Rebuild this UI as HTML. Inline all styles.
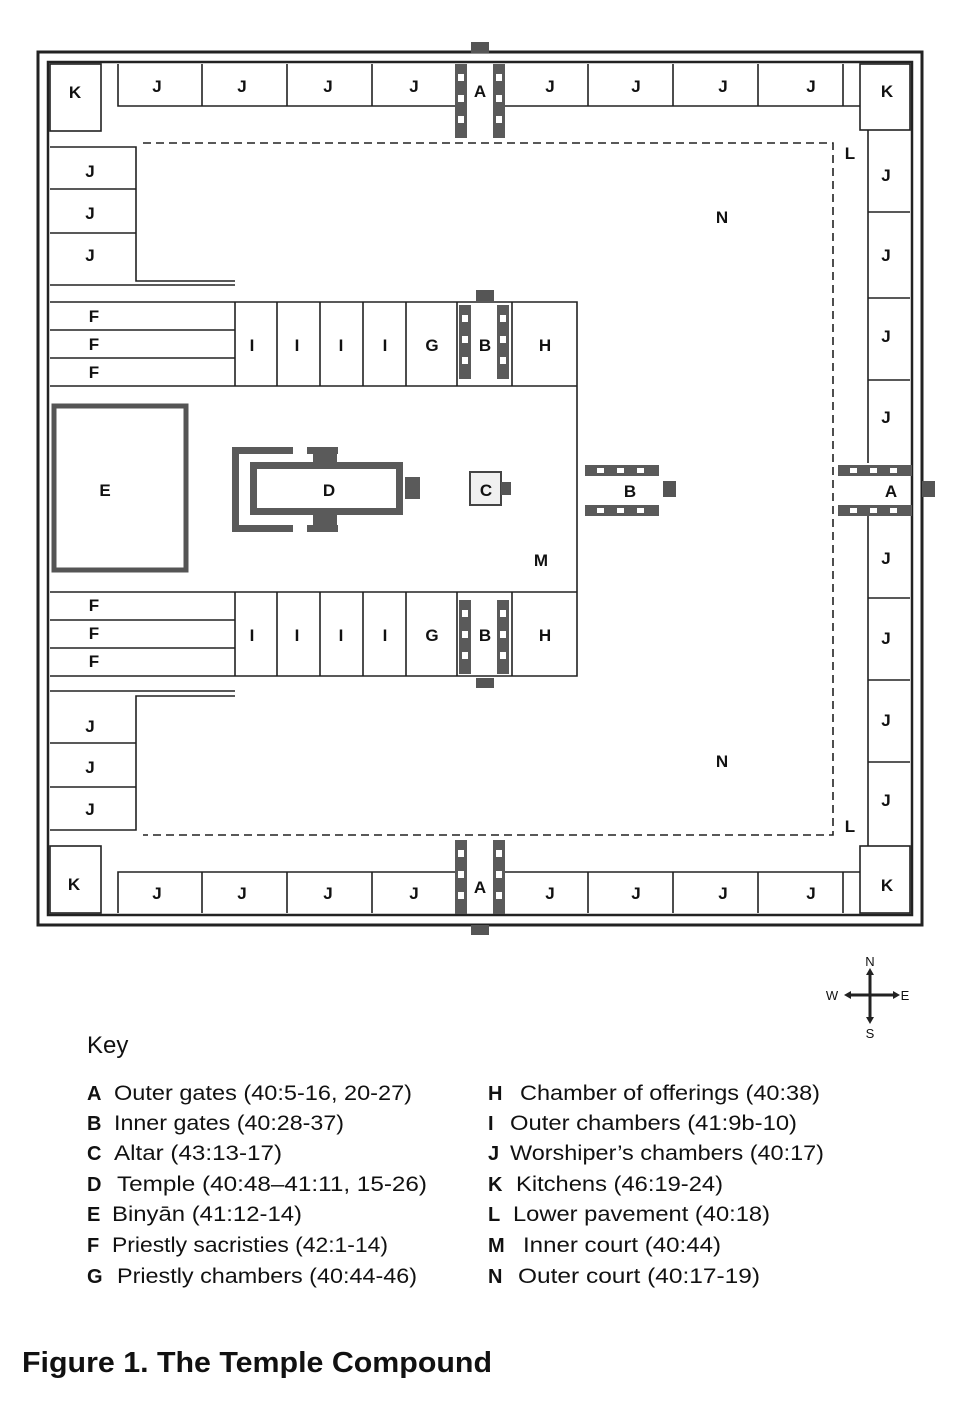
<!DOCTYPE html>
<html><head><meta charset="utf-8"><style>
html,body{margin:0;padding:0;background:#fff;}
svg{display:block;}
text{font-family:"Liberation Sans",sans-serif;fill:#111;}
.l{font-size:17px;font-weight:bold;text-anchor:middle;}
.k{font-size:21px;}
.kl{font-size:20px;font-weight:bold;}
</style></head><body>
<svg width="958" height="1416" viewBox="0 0 958 1416" xmlns="http://www.w3.org/2000/svg">
<defs>
<g id="vg">
 <rect x="0" y="0" width="12" height="74" fill="#5a5a5a"/>
 <rect x="3" y="10" width="6" height="7" fill="#fff"/><rect x="3" y="31" width="6" height="7" fill="#fff"/><rect x="3" y="52" width="6" height="7" fill="#fff"/>
 <rect x="38" y="0" width="12" height="74" fill="#5a5a5a"/>
 <rect x="41" y="10" width="6" height="7" fill="#fff"/><rect x="41" y="31" width="6" height="7" fill="#fff"/><rect x="41" y="52" width="6" height="7" fill="#fff"/>
</g>
<g id="hg">
 <rect x="0" y="0" width="74" height="11" fill="#5a5a5a"/>
 <rect x="12" y="3" width="7" height="5" fill="#fff"/><rect x="32" y="3" width="7" height="5" fill="#fff"/><rect x="52" y="3" width="7" height="5" fill="#fff"/>
 <rect x="0" y="40" width="74" height="11" fill="#5a5a5a"/>
 <rect x="12" y="43" width="7" height="5" fill="#fff"/><rect x="32" y="43" width="7" height="5" fill="#fff"/><rect x="52" y="43" width="7" height="5" fill="#fff"/>
</g>
</defs>
<g fill="none" stroke="#222" stroke-width="1.6">
 <rect x="38" y="52" width="884" height="873" stroke-width="3"/>
 <rect x="48" y="62" width="864" height="853" stroke-width="2.5"/>
 <rect x="50" y="64" width="51" height="67"/>
 <rect x="860" y="64" width="50" height="66"/>
 <rect x="50" y="846" width="51" height="67"/>
 <rect x="860" y="846" width="50" height="67"/>
 <path d="M118 64V106H455M202 64V106M287 64V106M372 64V106M505 106H860M588 64V106M673 64V106M758 64V106M843 64V106"/>
 <path d="M118 913V872H455M202 872V913M287 872V913M372 872V913M505 872H860M588 872V913M673 872V913M758 872V913M843 872V913"/>
 <path d="M50 147H136V281H235M50 189H136M50 233H136M50 285H235"/>
 <path d="M50 830H136V696H235M50 787H136M50 743H136M50 691H235"/>
 <path d="M868 130V463M868 515V846M868 212H910M868 298H910M868 380H910M868 598H910M868 680H910M868 762H910"/>
 <path d="M50 302H577V592M50 592H577M50 676H577V592M50 386H577V302"/>
 <path d="M50 330H235M50 358H235M235 302V386M277 302V386M320 302V386M363 302V386M406 302V386M457 302V386M512 302V386"/>
 <path d="M50 620H235M50 648H235M235 592V676M277 592V676M320 592V676M363 592V676M406 592V676M457 592V676M512 592V676"/>
 <path d="M143 143H833V835H143" stroke-dasharray="8,5"/>
</g>
<rect x="54" y="406" width="132" height="164" fill="none" stroke="#555" stroke-width="5"/>
<g fill="#5a5a5a">
 <path d="M232 447H293V454H239V525H293V532H232Z"/>
 <path d="M307 447H338V454H307Z M307 525H338V532H307Z"/>
 <path d="M250 462H403V515H250Z M257 469V508H396V469Z" fill-rule="evenodd"/>
 <rect x="313" y="454" width="24" height="15"/><rect x="313" y="508" width="24" height="17"/>
 <rect x="405" y="477" width="15" height="22"/>
 <rect x="255" y="485" width="2" height="8"/>
</g>
<rect x="470" y="472" width="31" height="33" fill="#f0f0f0" stroke="#444" stroke-width="2"/>
<rect x="501" y="482" width="10" height="13" fill="#555"/>
<use href="#vg" x="455" y="64"/><rect x="471" y="42" width="18" height="11" fill="#555"/>
<use href="#vg" x="455" y="840"/><rect x="471" y="925" width="18" height="10" fill="#555"/>
<use href="#vg" x="459" y="305"/><rect x="476" y="290" width="18" height="11" fill="#555"/>
<use href="#vg" x="459" y="600"/><rect x="476" y="678" width="18" height="10" fill="#555"/>
<use href="#hg" x="585" y="465"/><rect x="663" y="481" width="13" height="16" fill="#555"/>
<use href="#hg" x="838" y="465"/><rect x="922" y="481" width="13" height="16" fill="#555"/>
<g>
<text x="75" y="98" class="l">K</text><text x="887" y="97" class="l">K</text>
<text x="74" y="890" class="l">K</text><text x="887" y="891" class="l">K</text>
<text x="157" y="92" class="l">J</text><text x="242" y="92" class="l">J</text><text x="328" y="92" class="l">J</text><text x="414" y="92" class="l">J</text>
<text x="550" y="92" class="l">J</text><text x="636" y="92" class="l">J</text><text x="723" y="92" class="l">J</text><text x="811" y="92" class="l">J</text>
<text x="157" y="899" class="l">J</text><text x="242" y="899" class="l">J</text><text x="328" y="899" class="l">J</text><text x="414" y="899" class="l">J</text>
<text x="550" y="899" class="l">J</text><text x="636" y="899" class="l">J</text><text x="723" y="899" class="l">J</text><text x="811" y="899" class="l">J</text>
<text x="480" y="97" class="l">A</text><text x="480" y="893" class="l">A</text><text x="891" y="497" class="l">A</text>
<text x="90" y="177" class="l">J</text><text x="90" y="219" class="l">J</text><text x="90" y="261" class="l">J</text>
<text x="90" y="732" class="l">J</text><text x="90" y="773" class="l">J</text><text x="90" y="815" class="l">J</text>
<text x="886" y="181" class="l">J</text><text x="886" y="261" class="l">J</text><text x="886" y="342" class="l">J</text><text x="886" y="423" class="l">J</text>
<text x="886" y="564" class="l">J</text><text x="886" y="644" class="l">J</text><text x="886" y="726" class="l">J</text><text x="886" y="806" class="l">J</text>
<text x="94" y="322" class="l">F</text><text x="94" y="350" class="l">F</text><text x="94" y="378" class="l">F</text>
<text x="94" y="611" class="l">F</text><text x="94" y="639" class="l">F</text><text x="94" y="667" class="l">F</text>
<text x="252" y="351" class="l">I</text><text x="297" y="351" class="l">I</text><text x="341" y="351" class="l">I</text><text x="385" y="351" class="l">I</text><text x="432" y="351" class="l">G</text><text x="485" y="351" class="l">B</text><text x="545" y="351" class="l">H</text>
<text x="252" y="641" class="l">I</text><text x="297" y="641" class="l">I</text><text x="341" y="641" class="l">I</text><text x="385" y="641" class="l">I</text><text x="432" y="641" class="l">G</text><text x="485" y="641" class="l">B</text><text x="545" y="641" class="l">H</text>
<text x="105" y="496" class="l">E</text><text x="329" y="496" class="l">D</text><text x="486" y="496" class="l">C</text><text x="630" y="497" class="l">B</text>
<text x="541" y="566" class="l">M</text><text x="722" y="223" class="l">N</text><text x="722" y="767" class="l">N</text>
<text x="850" y="159" class="l">L</text><text x="850" y="832" class="l">L</text>
</g>
<g stroke="#222" stroke-width="3"><line x1="870" y1="972" x2="870" y2="1020"/><line x1="848" y1="995" x2="896" y2="995"/></g>
<g fill="#222"><path d="M870 968l-4 7h8z M870 1024l-4-7h8z M844 995l7-4v8z M900 995l-7-4v8z"/></g>
<text x="870" y="966" style="font-size:13px;text-anchor:middle">N</text>
<text x="870" y="1038" style="font-size:13px;text-anchor:middle">S</text>
<text x="832" y="1000" style="font-size:13px;text-anchor:middle">W</text>
<text x="905" y="1000" style="font-size:13px;text-anchor:middle">E</text>
<text x="87" y="1053" style="font-size:24px">Key</text>
<text x="87" y="1100" class="kl">A</text><text x="114" y="1100" class="k" textLength="298" lengthAdjust="spacingAndGlyphs">Outer gates (40:5-16, 20-27)</text>
<text x="87" y="1130" class="kl">B</text><text x="114" y="1130" class="k" textLength="230" lengthAdjust="spacingAndGlyphs">Inner gates (40:28-37)</text>
<text x="87" y="1160" class="kl">C</text><text x="114" y="1160" class="k" textLength="168" lengthAdjust="spacingAndGlyphs">Altar (43:13-17)</text>
<text x="87" y="1191" class="kl">D</text><text x="117" y="1191" class="k" textLength="310" lengthAdjust="spacingAndGlyphs">Temple (40:48–41:11, 15-26)</text>
<text x="87" y="1221" class="kl">E</text><text x="112" y="1221" class="k" textLength="190" lengthAdjust="spacingAndGlyphs">Binyān (41:12-14)</text>
<text x="87" y="1252" class="kl">F</text><text x="112" y="1252" class="k" textLength="276" lengthAdjust="spacingAndGlyphs">Priestly sacristies (42:1-14)</text>
<text x="87" y="1283" class="kl">G</text><text x="117" y="1283" class="k" textLength="300" lengthAdjust="spacingAndGlyphs">Priestly chambers (40:44-46)</text>
<text x="488" y="1100" class="kl">H</text><text x="520" y="1100" class="k" textLength="300" lengthAdjust="spacingAndGlyphs">Chamber of offerings (40:38)</text>
<text x="488" y="1130" class="kl">I</text><text x="510" y="1130" class="k" textLength="287" lengthAdjust="spacingAndGlyphs">Outer chambers (41:9b-10)</text>
<text x="488" y="1160" class="kl">J</text><text x="510" y="1160" class="k" textLength="314" lengthAdjust="spacingAndGlyphs">Worshiper’s chambers (40:17)</text>
<text x="488" y="1191" class="kl">K</text><text x="516" y="1191" class="k" textLength="207" lengthAdjust="spacingAndGlyphs">Kitchens (46:19-24)</text>
<text x="488" y="1221" class="kl">L</text><text x="513" y="1221" class="k" textLength="257" lengthAdjust="spacingAndGlyphs">Lower pavement (40:18)</text>
<text x="488" y="1252" class="kl">M</text><text x="523" y="1252" class="k" textLength="198" lengthAdjust="spacingAndGlyphs">Inner court (40:44)</text>
<text x="488" y="1283" class="kl">N</text><text x="518" y="1283" class="k" textLength="242" lengthAdjust="spacingAndGlyphs">Outer court (40:17-19)</text>
<text x="22" y="1372" style="font-size:29px;font-weight:bold" textLength="470" lengthAdjust="spacingAndGlyphs">Figure 1. The Temple Compound</text>
</svg>
</body></html>
